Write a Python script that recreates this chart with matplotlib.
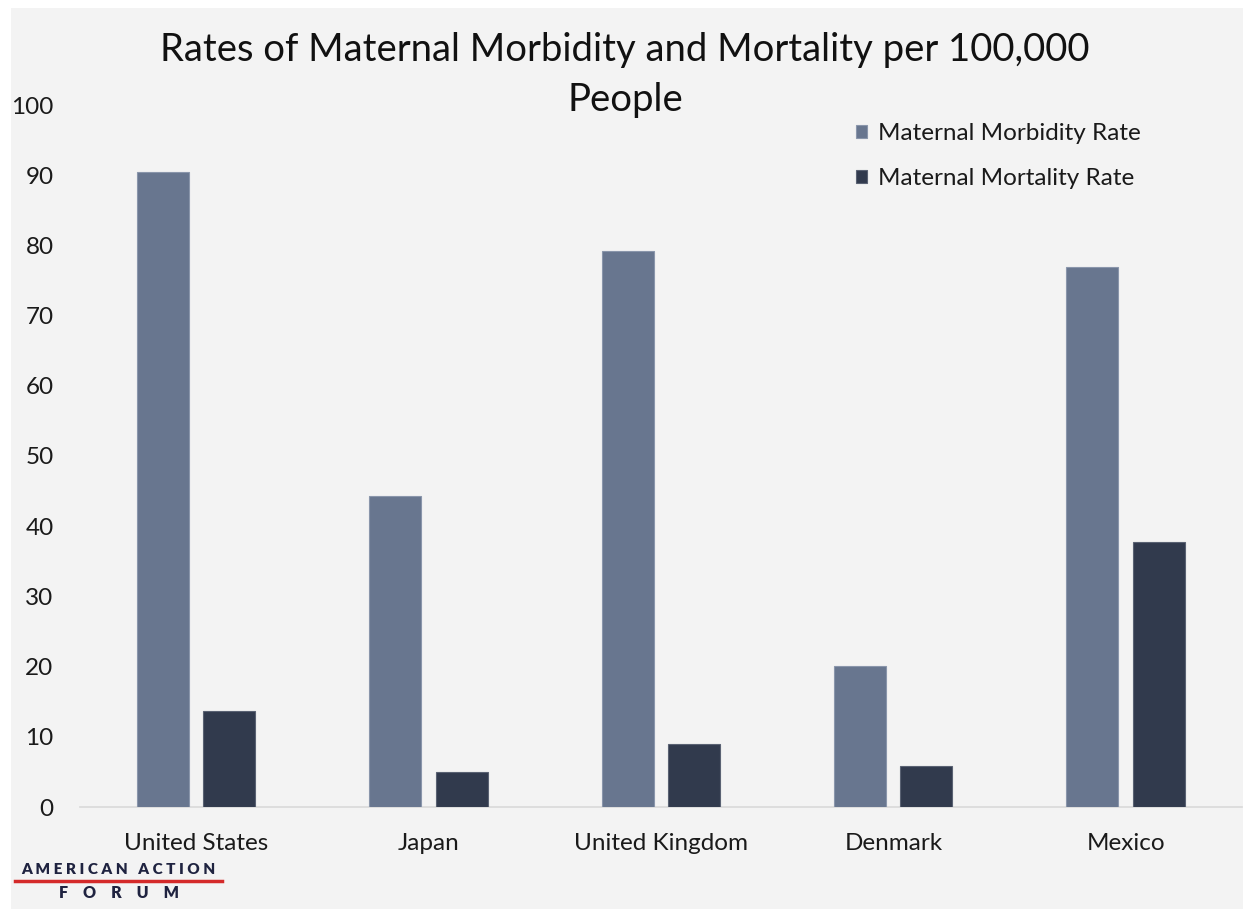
import numpy as np
import matplotlib
matplotlib.use("Agg")
import matplotlib.pyplot as plt
from matplotlib.patches import Rectangle
from matplotlib.lines import Line2D

# Data
countries = ["United States", "Japan", "United Kingdom", "Denmark", "Mexico"]
morbidity = [90.4, 44.3, 79.2, 20.1, 76.9]
mortality = [13.7, 5.0, 9.0, 5.8, 37.7]
series_names = ["Maternal Morbidity Rate", "Maternal Mortality Rate"]
y_ticks = [0, 10, 20, 30, 40, 50, 60, 70, 80, 90, 100]

W, H = 1243, 909
bg = "#f3f3f3"
c_morb = "#68768f"
c_mort = "#313a4d"

plt.rcParams["font.family"] = ["Lato", "DejaVu Sans"]

fig = plt.figure(figsize=(W / 100, H / 100), dpi=100)
fig.patch.set_facecolor("white")
# gray panel with small white margin at top and left
fig.patches.append(Rectangle((11 / W, 0), 1, (H - 8) / H, transform=fig.transFigure,
                             facecolor=bg, edgecolor="none", zorder=-5))

ax = fig.add_axes([80 / W, (H - 807) / H, (1242 - 80) / W, (807 - 105) / H])
ax.set_zorder(2)
ax.patch.set_alpha(0)

x = np.arange(len(countries))
w = 0.224
ax.bar(x - 0.144, morbidity, w, color=c_morb, edgecolor="#8a96ab", linewidth=0.8,
       label=series_names[0], zorder=3)
ax.bar(x + 0.142, mortality, w, color=c_mort, edgecolor="#5a6273", linewidth=0.8,
       label=series_names[1], zorder=3)

ax.set_xlim(-0.5, len(countries) - 0.5)
ax.set_ylim(0, 100)
ax.set_yticks(y_ticks)
ax.set_xticks(x)
ax.set_xticklabels(countries)
ax.tick_params(axis="both", length=0, labelsize=17.5, colors="#1a1a1a")
ax.tick_params(axis="y", pad=19)
ax.tick_params(axis="x", pad=19)
for s in ["top", "right", "left"]:
    ax.spines[s].set_visible(False)
ax.spines["bottom"].set_color("#d9d9d9")
ax.spines["bottom"].set_linewidth(1.2)

fig.text(625 / W, 1 - 50 / H, "Rates of Maternal Morbidity and Mortality per 100,000",
         ha="center", va="center", fontsize=27.5, color="#111111", zorder=3)
fig.text(625 / W, 1 - 100 / H, "People", ha="center", va="center", fontsize=27.5,
         color="#111111", zorder=3)

leg = ax.legend(loc="upper left", bbox_to_anchor=(834 / W, 1 - 101 / H),
                bbox_transform=fig.transFigure, frameon=False, fontsize=17.5,
                handlelength=0.45, handleheight=0.45, handletextpad=0.45,
                labelspacing=1.0, labelcolor="#1a1a1a")

# logo
fig.text(118 / W, 1 - 869 / H, "A M E R I C A N   A C T I O N", ha="center", va="center",
         fontsize=11, fontweight="heavy", color="#1f2340", zorder=3)
fig.add_artist(Line2D([15 / W, 222 / W], [1 - 881 / H, 1 - 881 / H], color="#d42a2a",
                      linewidth=2.5, transform=fig.transFigure))
fig.text(119 / W, 1 - 893 / H, "F    O    R    U    M", ha="center", va="center",
         fontsize=11.5, fontweight="heavy", color="#1f2340", zorder=3)

fig.savefig("out.png", dpi=100, facecolor=fig.get_facecolor())
